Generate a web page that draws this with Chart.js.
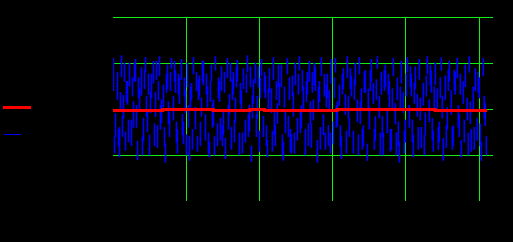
<!DOCTYPE html>
<html>
<head>
<meta charset="utf-8">
<script src="https://cdn.jsdelivr.net/npm/chart.js@4"></script>
<style>
html, body { margin: 0; background: #000; }
canvas { display: block; }
</style>
</head>
<body>
<canvas id="chart" width="513" height="242"></canvas>
<script>
// blue noise, two short vertical pieces per sample column: [low, high]
const bluePartA = [
  [20,55],[-30,-5],[10,40],[-52,-20],[35,58],[-10,15],[-45,-25],[5,30],[25,50],[-40,-12],
  [-20,8],[30,54],[-55,-35],[0,22],[15,45],[-35,-10],[40,56],[-25,0],[-50,-28],[12,38],
  [28,52],[-8,18],[-42,-18],[36,57],[-15,10],[2,26],[-58,-38],[22,48],[-30,-4],[44,55],
  [-12,14],[18,42],[-48,-22],[6,34],[32,54],[-38,-14],[-4,20],[24,50],[-56,-30],[10,28],
  [38,56],[-22,2],[-46,-30],[14,36],[-8,12],[26,52],[-34,-6],[2,24],[-52,-36],[30,48],
  [-18,10],[42,57],[-40,-16],[8,30],[20,46],[-28,-2],[-54,-32],[34,55],[-6,16],[-44,-20],
  [16,40],[-14,12],[30,53],[-50,-26],[0,20],[22,44],[-36,-12],[40,58],[-24,4],[-57,-40],
  [6,32],[28,50],[-10,14],[-46,-24],[36,54],[-30,-8],[12,36],[-52,-34],[18,44],[-4,22],
  [32,56],[-40,-18],[-16,6],[4,28],[24,48],[-56,-36],[-26,0],[38,55],[10,34],[-48,-28],
  [-8,18],[26,50],[-34,-10],[42,57],[-20,4],[0,24],[-50,-22],[16,40],[30,52],[-42,-16],
  [-12,10],[20,46],[-58,-34],[8,30],[36,56],[-28,-6],[-44,-26],[12,38],[-2,20],[28,54],
  [-38,-14],[40,55],[-18,8],[4,26],[-54,-30],[22,44],[-6,16],[34,57],[-30,-10],[14,36],
  [-48,-24],[26,50],[-14,10],[38,56],[0,22],[-40,-18],[18,42],[-56,-38],[-22,2],[30,54],
  [6,28],[-34,-8],[44,57],[-10,14],[16,40],[-50,-26],[24,48],[-26,-2],[2,30],[-44,-22],
  [36,55],[-16,6],[10,34],[-58,-36],[28,52],[-4,18],[-36,-12],[40,56],[-20,4],[14,38],
  [-52,-28],[22,46],[-8,16],[32,54],[-42,-20],[4,28],[-28,-4],[38,57],[-14,10],[18,42],
  [-46,-24],[26,50],[0,22],[-36,-14],[42,56],[-56,-32],[10,36],[-22,2],[30,52],[-6,20],
  [-40,-18],[16,40],[34,55],[-30,-6],[-52,-34],[6,30],[24,48],[-12,12],[40,57],[-46,-22],
  [-2,24],[20,44],[-34,-10],[12,34],[-56,-36],[36,55],[-18,6]
];
const bluePartB = [
  [-48,-30],null,[-40,-22],[-2,18],[-30,-8],[30,50],[8,30],[-36,-12],null,[14,34],
  [30,50],[-20,4],[12,34],null,[-50,-30],[22,42],[-8,14],[16,38],[-4,18],null,
  [-40,-16],[32,52],[10,30],[-22,4],null,[-40,-20],[18,38],[-16,8],[20,40],null,
  [30,52],[-36,-14],[16,38],null,[-28,-6],[14,34],[-50,-28],[-20,4],[2,24],[-44,-22],
  null,[20,40],[10,32],[-40,-14],[30,52],null,[16,38],[-48,-26],[8,30],[-20,6],
  [-50,-30],null,[12,34],[-34,-10],[-40,-18],[18,40],null,[-22,4],[30,50],[10,32],
  [-36,-12],[24,46],null,[6,28],[-48,-26],null,[18,38],[-30,-6],[24,46],[-10,14],
  null,[-30,-6],[24,46],[12,34],null,[18,40],[-40,-18],[0,22],null,[-46,-24],
  [-28,-4],[10,30],[24,48],null,[-50,-28],[2,24],null,[-30,-8],[-46,-22],[14,36],
  [-48,-26],null,[16,38],[-26,-2],[20,42],null,[8,30],[-40,-16],[-16,8],[18,40],
  [26,50],null,[0,24],[-44,-20],null,[14,38],[2,26],[-40,-18],[-48,-26],null,
  [12,34],[-20,4],null,[-40,-18],[16,38],null,[-48,-24],[-10,14],[22,44],null,
  [10,32],null,[-50,-28],[-16,8],[-44,-22],[18,40],null,[-2,22],[20,42],null,
  [-44,-22],[10,32],null,[-50,-26],[-30,-8],[20,42],null,[16,38],[-46,-22],[0,22],
  null,[-50,-26],[-40,-14],[0,24],null,[-48,-24],[14,38],null,[24,46],[-36,-12],
  [6,28],null,[-44,-20],[-12,12],null,[-50,-28],[14,36],null,[26,48],[-34,-10],
  [0,24],null,[-44,-20],[12,34],[-10,14],null,[-42,-18],[20,42],null,[-44,-20],
  [20,42],null,[-20,4],[16,38],null,[-36,-12],null,[-50,-26],[-16,8],null,
  [-44,-20],null,[18,40],[-40,-16],null,[-10,14],[-50,-30]
];
// red level: value holds from this x until the next one
const redX = [0, 68, 137, 187, 207, 306, 440, 511];
const redY = [-1.63, -0.54, -1.63, -0.54, -1.63, -0.54, -1.63, -1.63];

// grid positions
const xGrid = [100, 200, 300, 400, 500];
const yGrid = [-50, 0, 50, 100];

// sample spacing on the x axis; part b sits half a step to the right
const colStep = 2.73;
const startA = 0.68;
const startB = 2.05;
const gridGreen = '#11ee11';

const toBars = (parts, start) => parts.map((p, i) => ({ x: start + i * colStep, y: p }));

const fixedTicks = values => scale => {
  scale.ticks = values.map(v => ({ value: v }));
};

const legendLines = {
  id: 'legendLines',
  afterDraw(chart) {
    const ctx = chart.ctx;
    ctx.save();
    ctx.strokeStyle = '#ff0000';
    ctx.lineWidth = 3;
    ctx.beginPath(); ctx.moveTo(3, 107.5); ctx.lineTo(31, 107.5); ctx.stroke();
    ctx.strokeStyle = '#0000ff';
    ctx.lineWidth = 1;
    ctx.beginPath(); ctx.moveTo(4, 134.5); ctx.lineTo(21, 134.5); ctx.stroke();
    ctx.restore();
  }
};

new Chart(document.getElementById('chart'), {
  type: 'bar',
  data: {
    datasets: [
      {
        type: 'line',
        label: 'level',
        data: redX.map((x, i) => ({ x: x, y: redY[i] })),
        borderColor: '#ff0000',
        borderWidth: 3,
        pointRadius: 0,
        stepped: true,
        order: 0
      },
      {
        label: 'signal',
        data: toBars(bluePartA, startA),
        backgroundColor: '#0000ff',
        borderWidth: 0,
        barThickness: 1,
        grouped: false,
        order: 1
      },
      {
        label: 'signal b',
        data: toBars(bluePartB, startB),
        backgroundColor: '#0000ff',
        borderWidth: 0,
        barThickness: 1,
        grouped: false,
        order: 2
      }
    ]
  },
  options: {
    responsive: false,
    animation: false,
    layout: { padding: { left: 113, top: 17, right: 20, bottom: 41 } },
    plugins: {
      legend: { display: false },
      tooltip: { enabled: false }
    },
    scales: {
      x: {
        type: 'linear',
        min: 0,
        max: 519,
        offset: false,
        ticks: { display: false },
        grid: { color: gridGreen, offset: false, drawTicks: false },
        border: { display: false },
        afterBuildTicks: fixedTicks(xGrid)
      },
      y: {
        min: -100,
        max: 100,
        ticks: { display: false },
        grid: { color: gridGreen, drawTicks: false },
        border: { display: false },
        afterBuildTicks: fixedTicks(yGrid)
      }
    }
  },
  plugins: [legendLines]
});
</script>
</body>
</html>
